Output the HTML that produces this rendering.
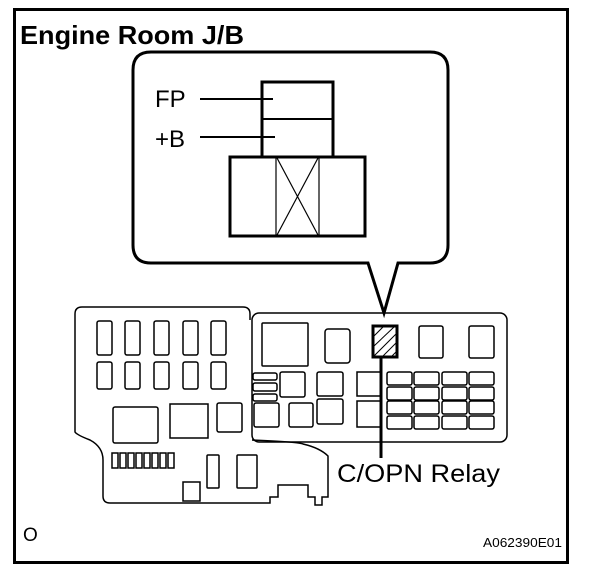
<!DOCTYPE html>
<html><head><meta charset="utf-8"><style>
html,body{margin:0;padding:0;background:#fff;}
svg{display:block;}
</style></head><body>
<svg width="608" height="578" viewBox="0 0 608 578" xmlns="http://www.w3.org/2000/svg" font-family="Liberation Sans, Arial, sans-serif">
<rect x="14.5" y="9.5" width="553" height="553" fill="none" stroke="#000" stroke-width="3"/>
<text x="20" y="44" font-size="26" font-weight="bold" textLength="224" lengthAdjust="spacingAndGlyphs">Engine Room J/B</text>
<!-- bubble -->
<path d="M151,52 H430 Q448,52 448,70 V245 Q448,263 430,263 H398 L384,313 L368,263 H151 Q133,263 133,245 V70 Q133,52 151,52 Z" fill="#fff" stroke="#000" stroke-width="3"/>
<rect x="262" y="82" width="71" height="75" fill="none" stroke="#000" stroke-width="3"/>
<line x1="262" y1="119" x2="333" y2="119" stroke="#000" stroke-width="2"/>
<rect x="230" y="157" width="135" height="79" fill="none" stroke="#000" stroke-width="3"/>
<line x1="276" y1="157" x2="276" y2="236" stroke="#000" stroke-width="1.2"/>
<line x1="319" y1="157" x2="319" y2="236" stroke="#000" stroke-width="1.2"/>
<line x1="277" y1="158" x2="318" y2="235" stroke="#000" stroke-width="1.2"/>
<line x1="318" y1="158" x2="277" y2="235" stroke="#000" stroke-width="1.2"/>
<text x="155" y="107" font-size="24">FP</text>
<text x="155" y="147" font-size="24">+B</text>
<line x1="200" y1="99" x2="273" y2="99" stroke="#000" stroke-width="2"/>
<line x1="200" y1="137" x2="275" y2="137" stroke="#000" stroke-width="2"/>
<!-- left board -->
<path d="M250,320 V314 Q250,307 243,307 H82 Q75,307 75,314 V432 Q77,435 90,440 Q103,447 103,460 V496 Q103,503 110,503 H270 V497 H278 V485 H308 V497 H315 V505 H322 V497 H328 V456 Q320,448 303,444 Q300,442 252,440" fill="none" stroke="#000" stroke-width="1.5"/>
<!-- right board -->
<rect x="252" y="313" width="255" height="129" rx="7" fill="none" stroke="#000" stroke-width="1.5"/>
<g fill="none" stroke="#000" stroke-width="1.5">
<rect x="97" y="321" width="15" height="34" rx="2"/><rect x="125" y="321" width="15" height="34" rx="2"/><rect x="154" y="321" width="15" height="34" rx="2"/><rect x="183" y="321" width="15" height="34" rx="2"/><rect x="211" y="321" width="15" height="34" rx="2"/>
<rect x="97" y="362" width="15" height="27" rx="2"/><rect x="125" y="362" width="15" height="27" rx="2"/><rect x="154" y="362" width="15" height="27" rx="2"/><rect x="183" y="362" width="15" height="27" rx="2"/><rect x="211" y="362" width="15" height="27" rx="2"/>
<rect x="113" y="407" width="45" height="36" rx="2"/><rect x="170" y="404" width="38" height="34"/><rect x="217" y="403" width="25" height="29" rx="2"/>
<rect x="112" y="453" width="6" height="15"/><rect x="120" y="453" width="6" height="15"/><rect x="128" y="453" width="6" height="15"/><rect x="136" y="453" width="6" height="15"/><rect x="144" y="453" width="6" height="15"/><rect x="152" y="453" width="6" height="15"/><rect x="160" y="453" width="6" height="15"/><rect x="168" y="453" width="6" height="15"/>
<rect x="207" y="455" width="12" height="33" rx="1"/><rect x="237" y="455" width="20" height="33" rx="1"/><rect x="183" y="482" width="17" height="19"/>
<rect x="262" y="323" width="46" height="43" rx="1"/><rect x="325" y="329" width="25" height="34" rx="3"/><rect x="419" y="326" width="24" height="32" rx="2"/><rect x="469" y="326" width="25" height="32" rx="2"/>
<rect x="253" y="373" width="24" height="7" rx="2"/><rect x="253" y="383" width="24" height="8" rx="2"/><rect x="253" y="394" width="24" height="7" rx="2"/>
<rect x="280" y="372" width="25" height="25" rx="2"/><rect x="317" y="372" width="26" height="24" rx="2"/><rect x="357" y="372" width="24" height="24"/>
<rect x="254" y="403" width="25" height="24" rx="2"/><rect x="289" y="403" width="24" height="24" rx="2"/><rect x="317" y="399" width="26" height="25" rx="2"/><rect x="357" y="401" width="24" height="26"/>
<rect x="387" y="372" width="25" height="13" rx="2"/><rect x="414" y="372" width="25" height="13" rx="2"/><rect x="442" y="372" width="25" height="13" rx="2"/><rect x="469" y="372" width="25" height="13" rx="2"/>
<rect x="387" y="387" width="25" height="13" rx="2"/><rect x="414" y="387" width="25" height="13" rx="2"/><rect x="442" y="387" width="25" height="13" rx="2"/><rect x="469" y="387" width="25" height="13" rx="2"/>
<rect x="387" y="401" width="25" height="13" rx="2"/><rect x="414" y="401" width="25" height="13" rx="2"/><rect x="442" y="401" width="25" height="13" rx="2"/><rect x="469" y="401" width="25" height="13" rx="2"/>
<rect x="387" y="416" width="25" height="13" rx="2"/><rect x="414" y="416" width="25" height="13" rx="2"/><rect x="442" y="416" width="25" height="13" rx="2"/><rect x="469" y="416" width="25" height="13" rx="2"/>
</g>
<!-- hatched relay -->
<rect x="373" y="326" width="24" height="31" fill="#fff" stroke="#000" stroke-width="3"/>
<g stroke="#000" stroke-width="1">
<line x1="374" y1="336" x2="383" y2="327"/><line x1="374" y1="346" x2="394" y2="327"/><line x1="374" y1="356" x2="396" y2="334"/><line x1="383" y1="356" x2="396" y2="343"/><line x1="392" y1="356" x2="396" y2="352"/>
</g>
<line x1="381" y1="357" x2="381" y2="458" stroke="#000" stroke-width="3"/>
<text x="337" y="482" font-size="25" textLength="163" lengthAdjust="spacingAndGlyphs">C/OPN Relay</text>
<text x="23" y="541" font-size="19">O</text>
<text x="483" y="547" font-size="13" textLength="79" lengthAdjust="spacingAndGlyphs">A062390E01</text>
</svg>
</body></html>
